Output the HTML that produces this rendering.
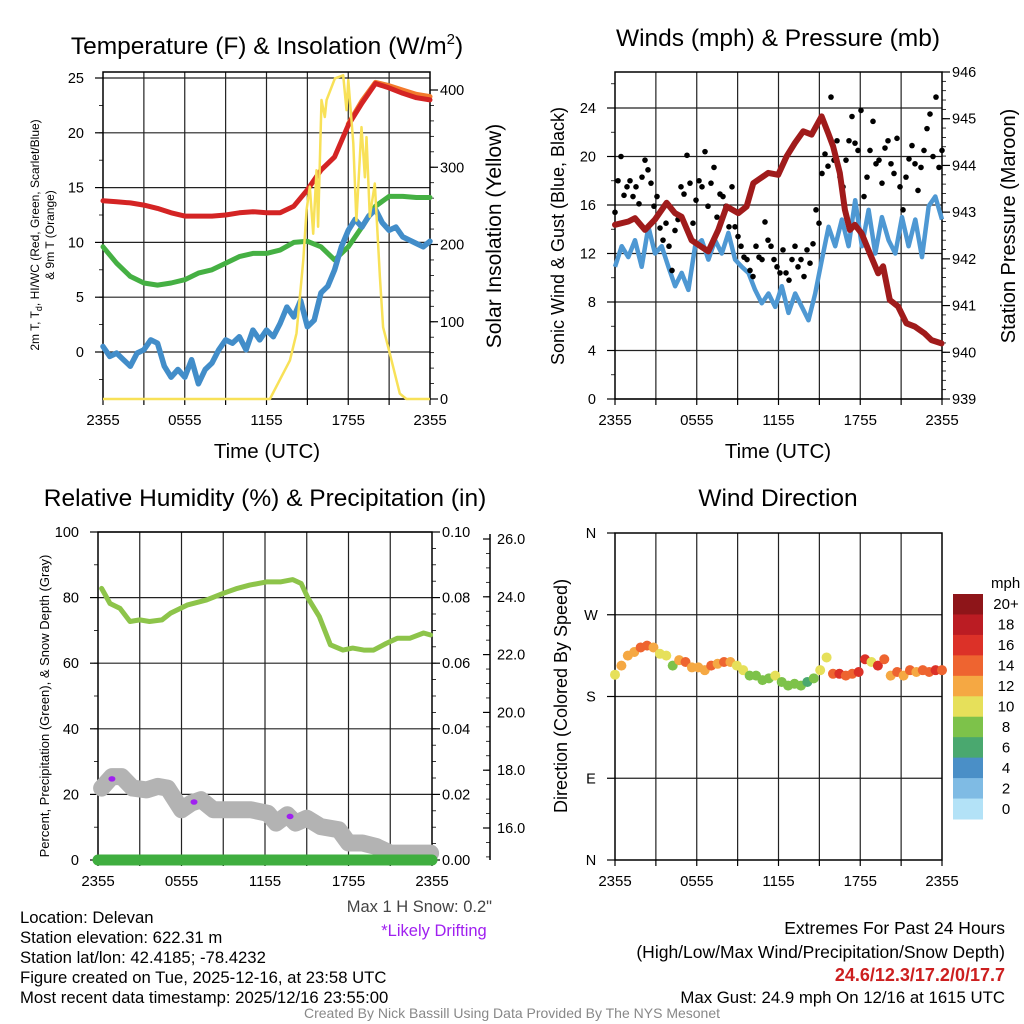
<!DOCTYPE html>
<html><head><meta charset="utf-8"><style>
html,body{margin:0;padding:0;background:#fff;width:1024px;height:1024px;overflow:hidden}
svg{font-family:"Liberation Sans",sans-serif}
</style></head><body>
<svg id="root" width="1024" height="1024" viewBox="0 0 1024 1024">
<g>
<text x="267" y="54" font-size="24.5" text-anchor="middle">Temperature (F) &amp; Insolation (W/m<tspan font-size="15" dy="-10">2</tspan><tspan dy="10">)</tspan></text>
<text x="778" y="46" font-size="24.5" text-anchor="middle">Winds (mph) &amp; Pressure (mb)</text>
<text x="265" y="506" font-size="24.5" text-anchor="middle">Relative Humidity (%) &amp; Precipitation (in)</text>
<text x="778" y="506" font-size="24.5" text-anchor="middle">Wind Direction</text>
<text transform="translate(39,235) rotate(-90)" font-size="12" text-anchor="middle">2m T, T<tspan font-size="9" dy="3">d</tspan><tspan dy="-3">, HI/WC (Red, Green, Scarlet/Blue)</tspan></text>
<text transform="translate(54,235) rotate(-90)" font-size="12" text-anchor="middle">&amp; 9m T (Orange)</text>
<text transform="translate(501,236) rotate(-90)" font-size="21" text-anchor="middle">Solar Insolation (Yellow)</text>
<text x="267" y="458" font-size="20.5" text-anchor="middle">Time (UTC)</text>
<text transform="translate(564,236) rotate(-90)" font-size="18" text-anchor="middle">Sonic Wind &amp; Gust (Blue, Black)</text>
<text transform="translate(1015,226) rotate(-90)" font-size="20" text-anchor="middle">Station Pressure (Maroon)</text>
<text x="778" y="458" font-size="20.5" text-anchor="middle">Time (UTC)</text>
<text transform="translate(49,706) rotate(-90)" font-size="13" text-anchor="middle">Percent, Precipitation (Green), &amp; Snow Depth (Gray)</text>
<text transform="translate(567,696) rotate(-90)" font-size="18" text-anchor="middle">Direction (Colored By Speed)</text>
<text x="991" y="588" font-size="15">mph</text>
<text x="492" y="912" font-size="16.5" fill="#444" text-anchor="end">Max 1 H Snow: 0.2"</text>
<text x="434" y="936" font-size="16.5" fill="#a020f0" text-anchor="middle">*Likely Drifting</text>
<g font-size="16.7">
<text x="20" y="923">Location: Delevan</text>
<text x="20" y="943">Station elevation: 622.31 m</text>
<text x="20" y="963">Station lat/lon: 42.4185; -78.4232</text>
<text x="20" y="983">Figure created on Tue, 2025-12-16, at 23:58 UTC</text>
<text x="20" y="1003">Most recent data timestamp: 2025/12/16 23:55:00</text>
</g>
<g font-size="17.5" text-anchor="end">
<text x="1005" y="934">Extremes For Past 24 Hours</text>
<text x="1005" y="958">(High/Low/Max Wind/Precipitation/Snow Depth)</text>
<text x="1005" y="981" fill="#cc1f1f" font-weight="bold" font-size="18">24.6/12.3/17.2/0/17.7</text>
<text x="1005" y="1003" font-size="16.8">Max Gust: 24.9 mph On 12/16 at 1615 UTC</text>
</g>
<text x="512" y="1018" font-size="14" fill="#888" text-anchor="middle">Created By Nick Bassill Using Data Provided By The NYS Mesonet</text>
</g>
</svg>
<script>
// ---------- DATA ----------
const xTickLabels = ["2355","0555","1155","1755","2355"];
// Panel 1 (hours 0..24, hourly)
const redT = [13.8,13.7,13.6,13.4,13.1,12.7,12.4,12.4,12.4,12.5,12.7,12.8,12.7,12.7,13.3,14.8,16.6,17.8,20.7,22.7,24.5,24.1,23.6,23.2,23.0];
const orangeHours = [18,19,20,21,22,23,24];
const orangeT = [20.8,22.9,24.6,24.3,23.9,23.5,23.3];
const greenTd = [9.6,8.1,6.9,6.3,6.1,6.3,6.6,7.2,7.5,8.1,8.7,9.0,9.0,9.3,10.0,10.1,9.6,8.4,9.6,11.4,13.3,14.2,14.2,14.1,14.1];
const blueWC = [0.5,-0.4,-0.1,-0.7,-1.3,-0.1,0.2,1.1,0.8,-1.3,-2.3,-1.6,-2.3,-0.7,-2.9,-1.6,-1.0,0.2,1.1,0.8,1.4,0.2,2.0,1.1,2.0,1.4,2.6,4.1,3.2,4.7,2.3,2.9,5.4,6.0,7.5,9.6,11.1,12.1,11.4,12.4,13.0,11.8,11.1,11.4,10.5,10.2,9.9,9.6,10.1];
const solarHours = [0,12.25,13.72,14.2,14.7,14.94,15.18,15.43,15.67,15.79,16.04,16.28,16.41,17.02,17.63,17.87,18.0,18.37,18.6,18.97,19.22,19.34,19.58,19.95,20.32,20.56,21.05,21.78,22.27,24];
const solar = [0,0,50,85,180,245,275,214,296,223,387,365,387,415,419,374,413,331,231,352,287,339,236,279,158,93,59,7,0,0];
const t1Left = [0,5,10,15,20,25];
const t1Right = [0,100,200,300,400];
// Panel 2
const sonicWind = [10.9,12.6,11.7,13.1,10.9,14.2,12.0,12.6,10.9,9.3,10.4,9.0,12.6,13.1,11.5,13.1,12.0,13.7,11.5,10.9,10.4,9.0,7.9,8.7,7.6,9.3,7.1,8.7,7.6,6.5,8.7,11.5,14.2,12.6,14.8,12.6,16.4,12.6,15.6,12.0,15.0,13.1,12.0,15.0,12.6,14.8,11.7,15.9,16.7,14.8];
const gust = [15.4,18.0,20.0,16.8,17.5,18.0,16.7,17.5,16.1,18.3,19.7,18.9,17.8,15.9,16.7,14.1,13.1,14.5,12.6,10.6,13.9,14.8,17.5,16.9,20.1,17.8,14.5,16.4,18.0,17.5,20.4,15.9,17.8,19.1,15.0,16.9,16.7,15.9,14.2,17.5,14.2,13.4,12.6,11.7,11.5,10.6,10.1,12.6,11.7,11.5,14.6,13.1,12.6,11.5,10.9,10.4,12.3,10.4,9.8,11.5,12.6,10.9,11.5,10.1,12.3,11.2,12.8,15.6,14.5,18.6,20.2,19.2,24.9,19.7,21.3,18.3,17.5,19.7,21.3,23.3,21.1,20.5,23.8,16.7,18.3,20.5,22.9,19.4,19.7,17.8,20.7,21.3,19.4,18.6,21.5,17.5,15.6,18.3,19.8,20.9,19.4,17.2,19.1,20.5,22.3,23.5,20.0,24.9,19.1,20.5];
const presHours = [0,0.98,1.47,2.2,2.93,3.79,4.4,4.89,5.62,6.85,7.58,8.19,9.05,9.66,10.15,11.25,11.98,12.59,13.2,13.81,14.43,15.16,15.65,16.01,16.5,16.87,17.24,17.6,18.09,18.7,19.32,19.68,20.17,20.78,21.39,22.0,22.74,23.23,23.96];
const pressure = [942.73,942.8,942.87,942.62,942.84,943.2,942.98,942.9,942.4,942.16,942.62,943.12,942.98,943.12,943.62,943.84,943.8,944.19,944.48,944.73,944.66,945.05,944.69,944.41,943.84,943.05,942.62,942.73,942.55,942.12,941.69,941.84,941.12,940.98,940.62,940.55,940.4,940.26,940.19];
const t2Left = [0,4,8,12,16,20,24];
const t2Right = [939,940,941,942,943,944,945,946];
// Panel 3
const rhHours = [0.26,0.86,1.58,2.3,3.0,3.7,4.6,5.2,6.4,7.8,9.0,10.0,10.9,12.1,13.1,14.0,14.6,15.1,15.9,16.7,17.6,18.3,19.1,19.8,20.7,21.5,22.4,23.4,23.9];
const rh = [82.8,78.2,76.7,72.7,73.2,72.7,73.2,75.2,77.7,79.3,81.3,82.8,83.8,84.8,84.8,85.5,84.3,79.8,74.2,65.6,64.0,64.6,64.0,64.0,66.0,67.6,67.6,69.2,68.6];
const snowHours = [0.26,1.0,1.7,2.5,3.5,4.3,5.0,6.0,6.7,7.4,8.3,9.5,11,12.2,12.8,13.6,14.2,15.0,16.0,17.3,18.0,19.0,20.0,21.0,22.5,23.9];
const snowDepth = [17.38,17.78,17.78,17.38,17.32,17.44,17.38,16.63,16.86,16.98,16.63,16.63,16.63,16.51,16.17,16.46,16.17,16.34,16.05,15.94,15.48,15.48,15.36,15.13,15.13,15.13];
const driftHours = [1.0,6.9,13.8];
const driftDepth = [17.7,16.9,16.4];
const precipHours = [0,24];
const precip = [0,0];
const t3Left = [0,20,40,60,80,100];
const t3Right = ["0.00","0.02","0.04","0.06","0.08","0.10"];
const t3Snow = [16,18,20,22,24,26];
// Panel 4
const windDir = [204,214,225,229,234,236,234,227,225,214,220,218,212,212,209,214,216,218,218,214,209,203,203,198,200,203,196,192,194,192,196,200,209,223,205,205,203,205,207,221,218,214,221,203,207,203,209,207,209,207,209,209];
const dirSpeed = [10.5,12.5,12.5,13,14.5,14.5,13,10.5,11,8.5,12.5,14.5,13,12.5,12.5,14.5,13,14.5,12.5,10.5,10.5,8.5,8.5,9,8.5,10.5,8.5,9,8.5,9,6.5,8.5,10.5,10.5,15,16,15,14.5,16,16.5,11,16.5,14.5,13,14.5,12.5,14.5,13,15,14.5,16,15];
const dirTicks = ["N","E","S","W","N"];
const cbLabels = ["20+","18","16","14","12","10","8","6","4","2","0"];
const cbColors = ["#8e1519","#bb1c23","#dc3128","#ee6430","#f5a843","#e6e05a","#7dc24a","#4aa86f","#4a8fc7","#7fbbe4","#b3e2f7"];

// ---------- HELPERS ----------
const NS="http://www.w3.org/2000/svg";
const root=document.getElementById('root');
function add(parent,tag,attrs,name){
  const el=document.createElementNS(NS,tag);
  for(const k in attrs) el.setAttribute(k,attrs[k]);
  
  
  parent.appendChild(el);return el;
}
function lin(d0,d1,r0,r1){return v=>r0+(v-d0)*(r1-r0)/(d1-d0);}
function path(xs,ys,fx,fy){return xs.map((x,i)=>(i?'L':'M')+fx(x).toFixed(1)+' '+fy(ys[i]).toFixed(1)).join(' ');}
function uniformHours(n){const a=[];for(let i=0;i<n;i++)a.push(24*i/(n-1));return a;}

function frame(g,x0,x1,y0,y1,name){
  const fx=lin(0,24,x0,x1);
  for(let h=3;h<24;h+=3){
    add(g,'line',{x1:fx(h),x2:fx(h),y1:y0,y2:y1,stroke:'#222','stroke-width':1.2},name+'-vgrid');
  }
  add(g,'rect',{x:x0,y:y0,width:x1-x0,height:y1-y0,fill:'none',stroke:'#000','stroke-width':1.5},name+'-frame');
  for(let h=0;h<=24;h+=3){
    add(g,'line',{x1:fx(h),x2:fx(h),y1:y1,y2:y1+6,stroke:'#000','stroke-width':1.2},name+'-xtick');
  }
  xTickLabels.forEach((t,i)=>{
    const tx=add(g,'text',{x:fx(i*6),y:y1+26,'font-size':15,'text-anchor':'middle'},name+'-xtick-label');
    tx.textContent=t;
  });
  return fx;
}
function hgrid(g,vals,fy,x0,x1,name){
  vals.forEach(v=>{add(g,'line',{x1:x0,x2:x1,y1:fy(v),y2:fy(v),stroke:'#222','stroke-width':1.2},name+'-hgrid');});
}
function yTicks(g,vals,labels,fy,x,side,name,minor){
  const dir=side==='left'?-1:1;
  vals.forEach((v,i)=>{
    add(g,'line',{x1:x,x2:x+dir*8,y1:fy(v),y2:fy(v),stroke:'#000','stroke-width':1.2},name+'-tick');
    const t=add(g,'text',{x:x+dir*(side==='left'?19:10),y:fy(v)+5,'font-size':14.5,'text-anchor':side==='left'?'end':'start'},name+'-tick-label');
    t.textContent=labels[i];
  });
  if(minor){for(let v=minor[0];v<=minor[1]+1e-9;v+=minor[2]){
    add(g,'line',{x1:x,x2:x+dir*4,y1:fy(v),y2:fy(v),stroke:'#000','stroke-width':0.8},name+'-minor-tick');
  }}
}

// ---------- PANEL 1 ----------
(function(){
  const g=add(root,'g',{},'temperature-panel');
  const x0=103,x1=430,y0=72,y1=399;
  const fy=lin(0,25,352,78), fr=lin(0,400,399,90);
  hgrid(g,t1Left,fy,x0,x1,'temp');
  const fx=frame(g,x0,x1,y0,y1,'temp');
  yTicks(g,t1Left,t1Left.map(String),fy,x0,'left','temp-left',[-2.5,25,2.5]);
  yTicks(g,t1Right,t1Right.map(String),fr,x1,'right','insolation-right',[0,400,20]);
  const hh=uniformHours(redT.length);
  add(g,'path',{d:path(uniformHours(greenTd.length),greenTd,fx,fy),fill:'none',stroke:'#45b043','stroke-width':5,'stroke-linejoin':'round','stroke-linecap':'round'},'dewpoint-line');
  add(g,'path',{d:path(uniformHours(blueWC.length),blueWC,fx,fy),fill:'none',stroke:'#428dc9','stroke-width':5.5,'stroke-linejoin':'round','stroke-linecap':'round'},'windchill-line');
  add(g,'path',{d:path(orangeHours,orangeT,fx,fy),fill:'none',stroke:'#f37a2c','stroke-width':5,'stroke-linejoin':'round','stroke-linecap':'round'},'nine-meter-temp-line');
  add(g,'path',{d:path(hh,redT,fx,fy),fill:'none',stroke:'#d42424','stroke-width':5,'stroke-linejoin':'round','stroke-linecap':'round'},'two-meter-temp-line');
  add(g,'path',{d:path(solarHours,solar,fx,fr),fill:'none',stroke:'#f8e158','stroke-width':2.5,'stroke-linejoin':'round'},'solar-insolation-line');
})();

// ---------- PANEL 2 ----------
(function(){
  const g=add(root,'g',{},'winds-panel');
  const x0=615,x1=942,y0=72,y1=399;
  const fy=lin(0,24,399,108), fr=lin(939,946,399,72);
  hgrid(g,t2Left,fy,x0,x1,'wind');
  const fx=frame(g,x0,x1,y0,y1,'wind');
  yTicks(g,t2Left,t2Left.map(String),fy,x0,'left','wind-left',[0,26,2]);
  yTicks(g,t2Right,t2Right.map(String),fr,x1,'right','pressure-right',[939,946,0.2]);
  add(g,'path',{d:path(uniformHours(sonicWind.length),sonicWind,fx,fy),fill:'none',stroke:'#4e98d3','stroke-width':4.5,'stroke-linejoin':'round'},'sonic-wind-line');
  const gh=uniformHours(gust.length);
  gust.forEach((v,i)=>{add(g,'circle',{cx:fx(gh[i]),cy:fy(v),r:2.8,fill:'#000'},'gust-point');});
  add(g,'path',{d:path(presHours,pressure,fx,fr),fill:'none',stroke:'#a01b1b','stroke-width':6,'stroke-linejoin':'round','stroke-linecap':'round'},'pressure-line');
})();

// ---------- PANEL 3 ----------
(function(){
  const g=add(root,'g',{},'humidity-panel');
  const x0=98,x1=432,y0=532,y1=860;
  const fy=lin(0,100,860,532), fs=lin(16,26,828,539);
  hgrid(g,t3Left,fy,x0,x1,'rh');
  const fx=frame(g,x0,x1,y0,y1,'rh');
  yTicks(g,t3Left,t3Left.map(String),fy,x0,'left','rh-left',[0,100,10]);
  yTicks(g,t3Left,t3Right,fy,x1,'right','precip-right',[0,100,5]);
  add(g,'line',{x1:490,x2:490,y1:534,y2:860,stroke:'#000','stroke-width':1.5},'snow-axis-line');
  t3Snow.forEach(v=>{
    add(g,'line',{x1:490,x2:483,y1:fs(v),y2:fs(v),stroke:'#000','stroke-width':1.2},'snow-tick');
    const t=add(g,'text',{x:497,y:fs(v)+5,'font-size':14.5},'snow-tick-label');
    t.textContent=v.toFixed(1);
  });
  for(let v=15;v<=26;v+=0.5){add(g,'line',{x1:490,x2:486,y1:fs(v),y2:fs(v),stroke:'#000','stroke-width':0.8},'snow-minor-tick');}
  add(g,'path',{d:path(snowHours,snowDepth,fx,fs),fill:'none',stroke:'#b3b3b3','stroke-width':17,'stroke-linejoin':'round','stroke-linecap':'round'},'snow-depth-line');
  driftHours.forEach((h,i)=>{add(g,'ellipse',{cx:fx(h),cy:fs(driftDepth[i]),rx:3.5,ry:2.8,fill:'#a020f0'},'drifting-marker');});
  add(g,'path',{d:path(precipHours,precip,fx,lin(0,0.1,860,532)),fill:'none',stroke:'#3fae3f','stroke-width':11,'stroke-linecap':'round'},'precip-line');
  add(g,'path',{d:path(rhHours,rh,fx,fy),fill:'none',stroke:'#8dc44a','stroke-width':5,'stroke-linejoin':'round','stroke-linecap':'round'},'rh-line');
})();

// ---------- PANEL 4 ----------
(function(){
  const g=add(root,'g',{},'wind-direction-panel');
  const x0=615,x1=942,y0=533,y1=860;
  const fy=lin(0,360,860,533);
  hgrid(g,[90,180,270],fy,x0,x1,'dir');
  const fx=frame(g,x0,x1,y0,y1,'dir');
  dirTicks.forEach((t,i)=>{
    add(g,'line',{x1:x0,x2:x0-8,y1:fy(i*90),y2:fy(i*90),stroke:'#000','stroke-width':1.2},'dir-tick');
    const tx=add(g,'text',{x:591,y:fy(i*90)+5,'font-size':14.5,'text-anchor':'middle'},'dir-tick-label');
    tx.textContent=t;
  });
  const dh=uniformHours(windDir.length);
  windDir.forEach((d,i)=>{
    const bin=Math.min(10,Math.floor(dirSpeed[i]/2));
    add(g,'circle',{cx:fx(dh[i]),cy:fy(d),r:5,fill:cbColors[10-bin]},'wind-direction-point');
  });
  const bh=225/11;
  cbColors.forEach((c,i)=>{
    add(g,'rect',{x:953,y:594+i*bh,width:30,height:bh+0.5,fill:c},'colorbar-box');
    const t=add(g,'text',{x:1006,y:594+i*bh+bh/2+5,'font-size':15,'text-anchor':'middle'},'colorbar-label');
    t.textContent=cbLabels[i];
  });
})();
</script>
</body></html>
